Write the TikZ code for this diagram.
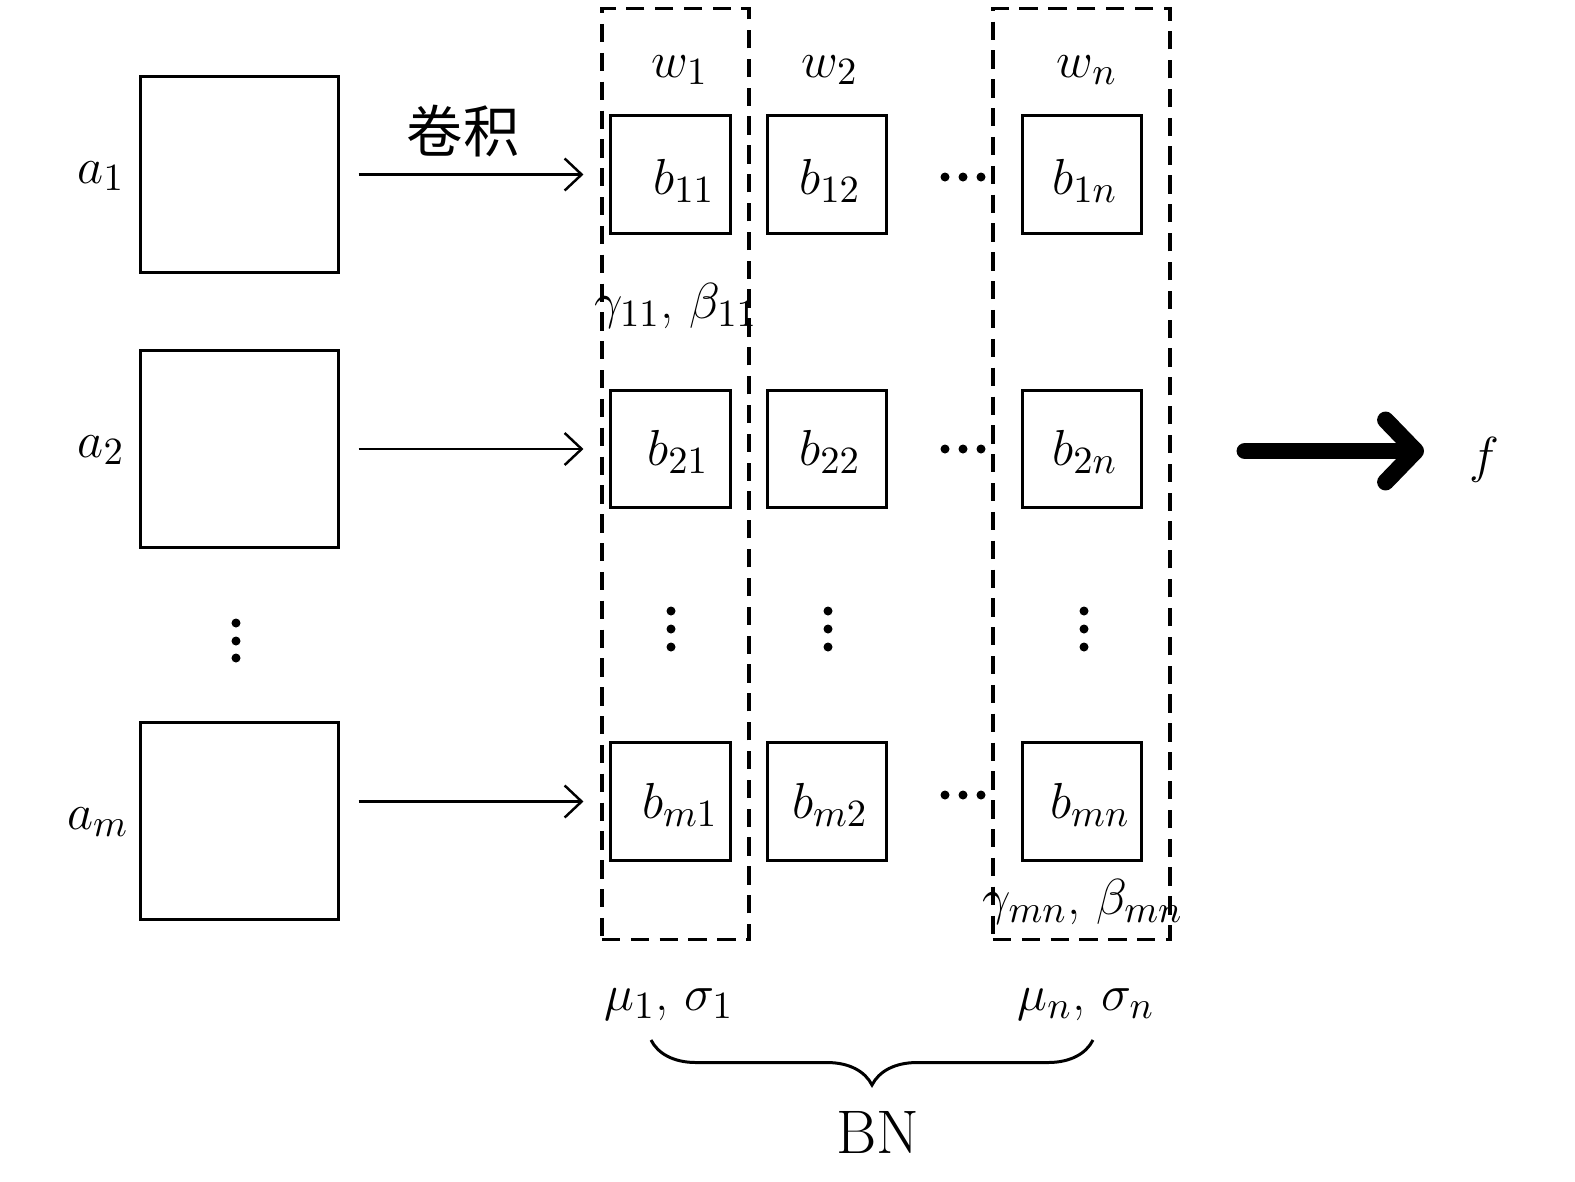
\documentclass[tikz,border=0pt]{standalone}
\usepackage{fontspec}
\newfontfamily\cjk{Noto Sans CJK SC}
\usetikzlibrary{arrows.meta,decorations.pathreplacing}
\begin{document}
\begin{tikzpicture}[x=0.01cm,y=-0.01cm,
  every node/.style={font=\fontsize{15}{18}\selectfont, inner sep=0pt},
  bigbox/.style={draw, line width=0.85pt, minimum width=1.97cm, minimum height=1.96cm},
  smallbox/.style={draw, line width=0.85pt, minimum width=1.19cm, minimum height=1.17cm},
  groupbox/.style={draw, dash pattern=on 5.2pt off 3pt, line width=0.95pt, minimum height=9.30cm},
  conv/.style={line width=0.7pt, -{Straight Barb[length=0.17cm,width=0.32cm]}, shorten <=0.19cm, shorten >=0.26cm},
  bigarrow/.style={line width=4.8pt, line cap=round, -{Straight Barb[length=0.3cm,width=0.62cm,round]}},
  bigtext/.style={font=\fontsize{16}{19}\selectfont}
]
\useasboundingbox (0,0) rectangle (1575,1181);

% input maps
\node[bigbox] (A1) at (239.5,174.5) {};
\node[bigbox] (A2) at (239.5,449) {};
\node[bigbox] (Am) at (239.5,821) {};
\node (la1) at (101,176) {$a_1$};
\node (la2) at (101,450) {$a_2$};
\node (lam) at (98,822) {$a_m$};
\foreach \yy in {623,641,658} \fill (236,\yy) circle (0.045cm);

% dashed groups
\node[groupbox, minimum width=1.47cm] (G1) at (675.5,474) {};
\node[groupbox, minimum width=1.77cm] (Gn) at (1081.5,474) {};

% output boxes
\node[smallbox] (B11) at (670.5,174.5) {};
\node[smallbox] (B12) at (827,174.5) {};
\node[smallbox] (B1n) at (1082,174.5) {};
\node[smallbox] (B21) at (670.5,449) {};
\node[smallbox] (B22) at (827,449) {};
\node[smallbox] (B2n) at (1082,449) {};
\node[smallbox] (Bm1) at (670.5,801.5) {};
\node[smallbox] (Bm2) at (827,801.5) {};
\node[smallbox] (Bmn) at (1082,801.5) {};

\node (lb11) at (684,181) {$b_{11}$};
\node (lb12) at (830,181) {$b_{12}$};
\node (lb1n) at (1085,181) {$b_{1n}$};
\node (lb21) at (678,452) {$b_{21}$};
\node (lb22) at (830,452) {$b_{22}$};
\node (lb2n) at (1085,452) {$b_{2n}$};
\node (lbm1) at (680,805) {$b_{m1}$};
\node (lbm2) at (830,805) {$b_{m2}$};
\node (lbmn) at (1090,805) {$b_{mn}$};

\node (w1) at (680,70) {$w_1$};
\node (w2) at (830,70) {$w_2$};
\node (wn) at (1087,70) {$w_n$};

% dots
\foreach \yy in {177,449,795} {
  \foreach \xx in {945,963,981} \fill (\xx,\yy) circle (0.045cm);
}
\foreach \xx in {671,828,1084} {
  \foreach \yy in {611,629,647} \fill (\xx,\yy) circle (0.045cm);
}

% convolution arrows
\draw[conv] (A1.east) -- (B11.west);
\draw[conv] (A2.east) -- (B21.west);
\draw[conv] (Am.east |- Bm1.west) -- (Bm1.west);
\node[bigtext] (conv) at (463,131) {\cjk 卷积};

% parameters
\node (gb11) at (676,306) {$\gamma_{11}$, $\beta_{11}$};
\node (gbmn) at (1083,902) {$\gamma_{mn}$, $\beta_{mn}$};
\node (ms1) at (669,1005) {$\mu_1$, $\sigma_1$};
\node (msn) at (1086,1005) {$\mu_n$, $\sigma_n$};

% brace
\coordinate (brL) at (651,1040);
\coordinate (brR) at (1093,1040);
\draw[line width=0.85pt, decorate, decoration={brace, mirror, amplitude=0.45cm}] (brL) -- (brR);
\node[font=\fontsize{17.5}{20}\selectfont] (bn) at (878,1132) {BN};

% final arrow
\coordinate (tA) at (1245,451);
\coordinate (tB) at (1424,451);
\draw[bigarrow] (tA) -- (tB);
\node (f) at (1484,460) {$f$};
\end{tikzpicture}
\end{document}
